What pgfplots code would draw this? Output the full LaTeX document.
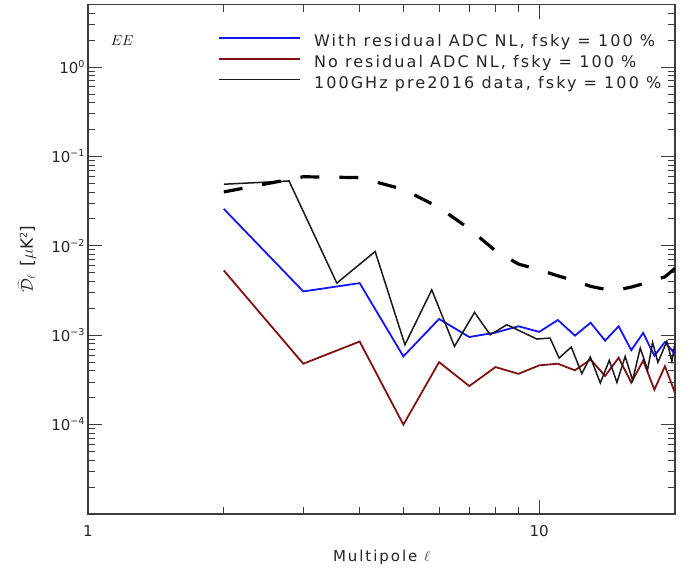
\documentclass[border=0pt]{standalone}
\usepackage{pgfplots}
\pgfplotsset{compat=1.18}
\usepackage{fontspec}
\setmainfont{DejaVu Sans}
\newfontfamily\legfont[LetterSpace=13]{DejaVu Sans}
\definecolor{myblue}{RGB}{20,20,250}
\definecolor{myred}{RGB}{128,18,18}
\definecolor{axgray}{RGB}{60,60,60}
\newcommand{\tsup}[1]{\raisebox{6pt}{\fontsize{9.5}{9.5}\selectfont #1}}
\begin{document}
\begin{tikzpicture}
\useasboundingbox (-88pt,-55pt) rectangle (609pt,514pt);
\begin{axis}[
  at={(0pt,0pt)}, anchor=south west,
  scale only axis, width=587pt, height=509.4pt,
  xmode=log, ymode=log,
  xmin=1, xmax=20, ymin=1e-5, ymax=5,
  axis line style={axgray, line width=1.1pt},
  tick style={axgray, line width=0.9pt},
  major tick length=14pt, minor tick length=7pt,
  tick align=inside,
  xtick={1,10}, xticklabels={1,10},
  minor xtick={2,3,4,5,6,7,8,9,20},
  ytick={1e-4,1e-3,1e-2,1e-1,1},
  yticklabels={10\tsup{−4},10\tsup{−3},10\tsup{−2},10\tsup{−1},10\tsup{0}},
  minor ytick={2e-5,3e-5,4e-5,5e-5,6e-5,7e-5,8e-5,9e-5,
               2e-4,3e-4,4e-4,5e-4,6e-4,7e-4,8e-4,9e-4,
               2e-3,3e-3,4e-3,5e-3,6e-3,7e-3,8e-3,9e-3,
               2e-2,3e-2,4e-2,5e-2,6e-2,7e-2,8e-2,9e-2,
               0.2,0.3,0.4,0.5,0.6,0.7,0.8,0.9,2,3,4,5},
  tick label style={font=\fontsize{15}{15}\selectfont, text=black!85},
  xticklabel style={yshift=-8pt},
  xlabel={Multipole $\ell$},
  xlabel style={at={(axis description cs:0.5,-0.0844)}, anchor=center, font=\legfont\fontsize{15}{15}\selectfont, text=black!85},
  ylabel={$\widehat{\mathcal{D}}_{\ell}$ [$\mu$K\tsup{2}]},
  ylabel style={at={(axis description cs:-0.104,0.5)}, anchor=center, font=\legfont\fontsize{17}{17}\selectfont, text=black!85},
  legend style={at={(rel axis cs:0.2215,0.9462)}, anchor=north west, draw=none, fill=none,
    font=\legfont\fontsize{16}{16}\selectfont, inner sep=0pt, column sep=13pt,
    nodes={inner sep=0pt, text height=14pt, text depth=7pt, text=black!85}},
  legend cell align=left,
  legend image code/.code={\draw[#1] (0pt,5pt) -- (81pt,5pt);},
]
\addplot[myblue, line width=1.8pt] coordinates {
(2,0.0259) (3,0.00309) (4,0.00383) (5,5.8e-4) (6,1.52e-3) (7,9.55e-4) (8,1.07e-3)
(9,1.26e-3) (10,1.09e-3) (11,1.48e-3) (12,9.9e-4) (13,1.38e-3) (14,8.7e-4) (15,1.26e-3)
(16,6.8e-4) (17,1.06e-3) (18,5.9e-4) (19,8.4e-4) (20,6.15e-4)};
\addlegendentry{With residual ADC NL, fsky = 100 \%}
\addplot[myred, line width=1.8pt] coordinates {
(2,5.3e-3) (3,4.8e-4) (4,8.5e-4) (5,1.0e-4) (6,5.0e-4) (7,2.7e-4) (8,4.4e-4)
(9,3.7e-4) (10,4.6e-4) (11,4.8e-4) (12,4.05e-4) (13,5.35e-4) (14,3.5e-4) (15,5.6e-4)
(16,2.95e-4) (17,5.2e-4) (18,2.46e-4) (19,4.5e-4) (20,2.26e-4)};
\addlegendentry{No residual ADC NL, fsky = 100 \%}
\addplot[black!90, line width=1.5pt] coordinates {
(2,0.0489) (2.79,0.0532) (3.56,0.00383) (4.33,0.00864) (5.04,7.83e-4) (5.78,0.00322)
(6.49,7.5e-4) (7.19,1.80e-3) (7.79,1.01e-3) (8.48,1.31e-3) (9.88,9.07e-4) (10.57,9.3e-4)
(11.07,5.56e-4) (11.78,7.38e-4) (12.43,3.72e-4) (12.98,5.7e-4) (13.66,2.92e-4) (14.30,5.23e-4)
(14.87,2.97e-4) (15.51,5.8e-4) (16.11,3.13e-4) (16.75,7.19e-4) (17.39,4.12e-4) (17.84,8.3e-4)
(18.33,4.97e-4) (19.19,8.53e-4) (19.69,5.1e-4) (20,8.18e-4)};
\addlegendentry{100GHz pre2016 data, fsky = 100 \%}
\addplot[black, line width=3.2pt, dash pattern=on 19pt off 20pt, forget plot] coordinates {
(2,0.0401) (3,0.0593) (4,0.058) (5,0.0428) (6,0.0269) (7,0.0155) (8,0.0088) (9,0.00625)
(10,0.0054) (11,0.00462) (12,0.00406) (13,0.00352) (14,0.00327) (15,0.00322) (16,0.00346)
(17,0.00376) (18,0.00412) (19,0.0045) (20,0.0056)};
\node[font=\fontsize{15}{15}\selectfont] at (rel axis cs:0.058,0.929) {$EE$};
\end{axis}
\end{tikzpicture}
\end{document}
